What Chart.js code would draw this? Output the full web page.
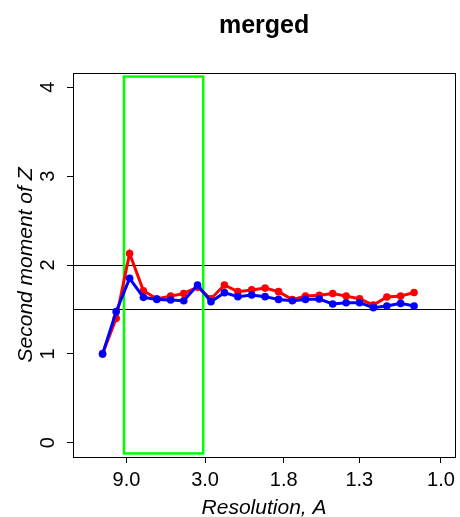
<!DOCTYPE html>
<html>
<head>
<meta charset="utf-8">
<script src="https://cdn.jsdelivr.net/npm/chart.js@4"></script>
<style>
    html, body { margin: 0; padding: 0; background: #fff; }
    canvas { display: block; }
</style>
</head>
<body>
<canvas id="momentChart" width="460" height="517"></canvas>
<script>
// Data (x is 1/resolution)
const resInv = [0.0435, 0.082, 0.120, 0.159, 0.197, 0.236, 0.273, 0.312, 0.350, 0.388, 0.426, 0.465,
    0.503, 0.541, 0.580, 0.617, 0.656, 0.694, 0.732, 0.770, 0.809, 0.847, 0.886, 0.924];
const blueMoment = [1.00, 1.475, 1.85, 1.636, 1.613, 1.606, 1.598, 1.775, 1.587, 1.689, 1.644, 1.662,
    1.644, 1.613, 1.598, 1.613, 1.617, 1.561, 1.576, 1.576, 1.52, 1.538, 1.568, 1.538];
const redMoment = [1.00, 1.40, 2.13, 1.71, 1.62, 1.65, 1.68, 1.75, 1.62, 1.775, 1.70, 1.72,
    1.74, 1.70, 1.61, 1.65, 1.66, 1.68, 1.65, 1.62, 1.55, 1.64, 1.65, 1.69];

// Axis ticks and reference marks
const xTickRes = [9.0, 3.0, 1.8, 1.3, 1.0];
const yTicks = [0, 1, 2, 3, 4];
const refLines = [2, 1.5];
const boxX = [0.104, 0.328];
const boxY = [-0.12, 4.12];

const FONT = "'Liberation Sans', Arial, sans-serif";

const toPoints = (ys) => ys.map((y, i) => ({ x: resInv[i], y: y }));

// Draws title, frame, y tick labels, axis titles, reference lines and green box
const decorations = {
    id: 'decorations',
    beforeDatasetsDraw(chart) {
        const { ctx, chartArea, scales } = chart;
        const x = scales.x, y = scales.y;
        ctx.save();
        // horizontal reference lines
        ctx.strokeStyle = '#000';
        ctx.lineWidth = 1;
        refLines.forEach(v => {
            const py = Math.round(y.getPixelForValue(v)) + 0.5;
            ctx.beginPath();
            ctx.moveTo(chartArea.left, py);
            ctx.lineTo(chartArea.right, py);
            ctx.stroke();
        });
        // green box
        ctx.strokeStyle = '#00ff00';
        ctx.lineWidth = 2.5;
        const x0 = x.getPixelForValue(boxX[0]), x1 = x.getPixelForValue(boxX[1]);
        const y0 = y.getPixelForValue(boxY[1]), y1 = y.getPixelForValue(boxY[0]);
        ctx.strokeRect(x0, y0, x1 - x0, y1 - y0);
        ctx.restore();
    },
    afterDraw(chart) {
        const { ctx, chartArea, scales } = chart;
        const y = scales.y;
        const cx = (chartArea.left + chartArea.right) / 2;
        const cy = (chartArea.top + chartArea.bottom) / 2;
        ctx.save();
        ctx.fillStyle = '#000';
        // frame
        ctx.strokeStyle = '#000';
        ctx.lineWidth = 1;
        ctx.strokeRect(Math.round(chartArea.left) + 0.5, Math.round(chartArea.top) + 0.5,
            Math.round(chartArea.right - chartArea.left), Math.round(chartArea.bottom - chartArea.top));
        // title
        ctx.font = 'bold 25px ' + FONT;
        ctx.textAlign = 'center';
        ctx.textBaseline = 'alphabetic';
        ctx.fillText('merged', cx, 33);
        // x axis title
        ctx.font = 'italic 21px ' + FONT;
        ctx.fillText('Resolution, A', cx, 514);
        // y tick labels, rotated like R
        ctx.font = '20px ' + FONT;
        yTicks.forEach(v => {
            ctx.save();
            ctx.translate(54, y.getPixelForValue(v));
            ctx.rotate(-Math.PI / 2);
            ctx.fillText(String(v), 0, 0);
            ctx.restore();
        });
        // y axis title
        ctx.font = 'italic 21px ' + FONT;
        ctx.translate(32, cy);
        ctx.rotate(-Math.PI / 2);
        ctx.fillText('Second moment of Z', 0, 0);
        ctx.restore();
    }
};

function initializeChart() {
    const ctx = document.getElementById('momentChart');
    new Chart(ctx, {
        type: 'line',
        data: {
            datasets: [{
                label: 'blue',
                data: toPoints(blueMoment),
                borderColor: '#0000ff',
                backgroundColor: '#0000ff',
                borderWidth: 3,
                pointRadius: 3.8,
                pointBorderWidth: 0,
                tension: 0,
                order: 0
            }, {
                label: 'red',
                data: toPoints(redMoment),
                borderColor: '#ff0000',
                backgroundColor: '#ff0000',
                borderWidth: 3,
                pointRadius: 3.8,
                pointBorderWidth: 0,
                tension: 0,
                order: 1
            }]
        },
        options: {
            responsive: false,
            animation: false,
            layout: { padding: { top: 73, right: 3, left: 0, bottom: 0 } },
            plugins: {
                legend: { display: false },
                tooltip: { enabled: false },
                title: { display: false }
            },
            scales: {
                x: {
                    type: 'linear',
                    min: -0.04,
                    max: 1.04,
                    afterBuildTicks: (scale) => {
                        scale.ticks = xTickRes.map(r => ({ value: 1 / r }));
                    },
                    afterFit: (scale) => { scale.height = 60; },
                    ticks: {
                        autoSkip: false,
                        maxRotation: 0,
                        padding: 5,
                        color: '#000',
                        font: { family: FONT, size: 20 },
                        callback: (value) => (1 / value).toFixed(1)
                    },
                    grid: { drawOnChartArea: false, drawTicks: true, tickLength: 6, color: '#000' },
                    border: { display: false }
                },
                y: {
                    type: 'linear',
                    min: -0.16,
                    max: 4.16,
                    afterBuildTicks: (scale) => {
                        scale.ticks = yTicks.map(v => ({ value: v }));
                    },
                    afterFit: (scale) => { scale.width = 73; },
                    ticks: { display: false },
                    grid: { drawOnChartArea: false, drawTicks: true, tickLength: 6, color: '#000' },
                    border: { display: false }
                }
            }
        },
        plugins: [decorations]
    });
}

initializeChart();
</script>
</body>
</html>
